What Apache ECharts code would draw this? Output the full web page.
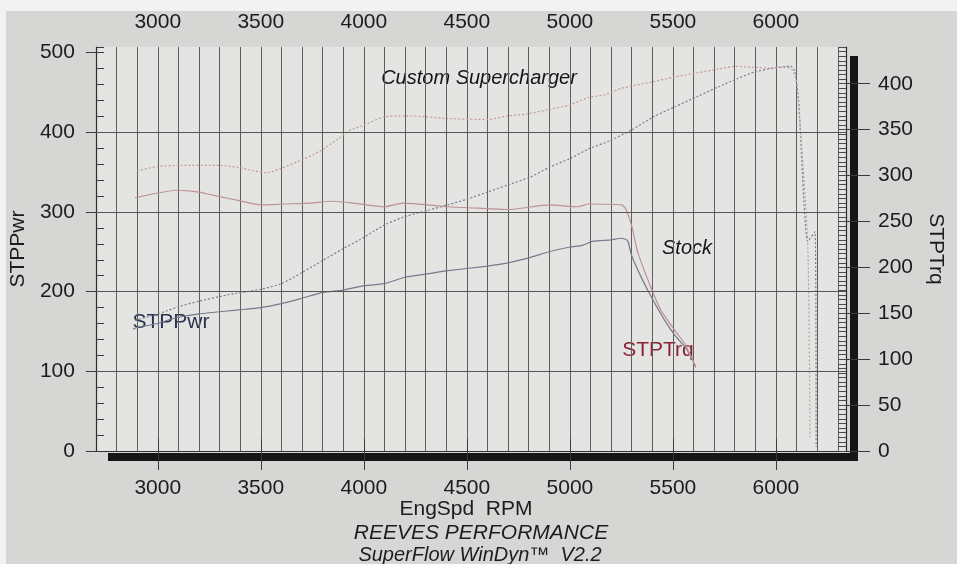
<!DOCTYPE html>
<html><head><meta charset="utf-8">
<script src="https://cdn.jsdelivr.net/npm/echarts@6.0.0/dist/echarts.min.js"></script>
<style>html,body{margin:0;padding:0;background:#d6d6d4}#c{width:957px;height:564px}</style>
</head><body><div id="c"></div>
<script>
// ---- data ----
const rpmTicks = [3000, 3500, 4000, 4500, 5000, 5500, 6000];
const pwrTicks = [0, 100, 200, 300, 400, 500];
const trqTicks = [0, 50, 100, 150, 200, 250, 300, 350, 400];
const pwrGrid = [100, 200, 300, 400];

const stockPwrRpm = [2880, 2900, 3000, 3070, 3200, 3390, 3500, 3600, 3690, 3800, 3900, 3990, 4100, 4200, 4300, 4400, 4600, 4700, 4810, 4900, 5000, 5060, 5110, 5200, 5250, 5280, 5300, 5350, 5400, 5460, 5510, 5560, 5590, 5610];
const stockPwr    = [153, 155, 160, 166, 172, 177, 180, 185, 191, 199, 202, 207, 210, 218, 222, 226, 232, 236, 243, 250, 256, 258, 263, 265, 267, 264, 245, 216, 191, 164, 145, 130, 117, 106];

const scPwrRpm = [2890, 3000, 3100, 3200, 3340, 3500, 3600, 3700, 3800, 3900, 3980, 4050, 4110, 4210, 4310, 4410, 4500, 4600, 4700, 4810, 4900, 5000, 5090, 5190, 5300, 5410, 5510, 5620, 5720, 5810, 5900, 6000, 6070, 6090, 6110, 6154, 6190, 6195];
const scPwr    = [164, 172, 181, 188, 196, 203, 210, 224, 239, 254, 265, 276, 285, 295, 302, 309, 316, 325, 334, 344, 356, 367, 379, 389, 403, 420, 432, 445, 457, 467, 476, 481, 483, 478, 440, 263, 275, 5];

const stockTrqRpm = [2890, 3000, 3090, 3200, 3300, 3390, 3500, 3610, 3740, 3850, 3950, 4100, 4190, 4410, 4600, 4700, 4900, 5040, 5090, 5250, 5270, 5300, 5330, 5390, 5440, 5510, 5560, 5590, 5610];
const stockTrq    = [276, 281, 284, 282, 277, 273, 268, 269, 270, 272, 270, 266, 270, 266, 264, 263, 268, 266, 269, 268, 264, 245, 216, 180, 154, 131, 116, 102, 91];

const scTrqRpm = [2900, 3000, 3100, 3300, 3390, 3470, 3530, 3600, 3710, 3790, 3870, 3930, 3990, 4100, 4200, 4300, 4410, 4600, 4700, 4790, 4900, 5000, 5090, 5170, 5250, 5400, 5500, 5620, 5720, 5800, 5880, 5980, 6050, 6080, 6100, 6154, 6165];
const scTrq    = [305, 310, 311, 311, 309, 305, 303, 308, 318, 327, 339, 349, 354, 364, 365, 364, 362, 361, 365, 367, 372, 377, 385, 388, 395, 402, 407, 412, 416, 419, 418, 417, 418, 415, 403, 228, 15];

const RPM_MIN = 2700, RPM_MAX = 6340, PWR_MAX = 507, TRQ_MAX = 440;

// ---- chart ----
const FONT = '"Liberation Sans", Arial, sans-serif';
const pair = (xs, ys) => xs.map((x, i) => [x, ys[i]]);
const txt = { fontFamily: FONT, fontSize: 21, color: '#1c1c1c' };
const fmtRpm = v => (v % 500 === 0 && v >= 3000 && v <= 6000) ? String(v) : '';
const xBase = { type: 'value', min: RPM_MIN, max: RPM_MAX, interval: 100 };

const chart = echarts.init(document.getElementById('c'), null, { renderer: 'canvas' });
chart.setOption({
  animation: false,
  backgroundColor: '#d6d6d4',
  grid: { left: 93, right: 111, top: 47, bottom: 113, show: true, backgroundColor: '#e4e4e2', borderWidth: 0 },
  xAxis: [
    Object.assign({}, xBase, {
      position: 'bottom',
      axisLine: { show: true, lineStyle: { color: '#2e2e2e', width: 1.2 } },
      axisTick: { show: true, customValues: rpmTicks, length: 19, lineStyle: { color: '#3a3a3a' } },
      axisLabel: Object.assign({ customValues: rpmTicks, margin: 27, formatter: fmtRpm }, txt),
      splitLine: { show: false }
    }),
    Object.assign({}, xBase, {
      position: 'top',
      axisLine: { show: true, lineStyle: { color: '#2e2e2e', width: 1.2 } },
      axisTick: { show: true, customValues: rpmTicks, length: 12, lineStyle: { color: '#3a3a3a' } },
      axisLabel: Object.assign({ customValues: rpmTicks, margin: 14, formatter: fmtRpm }, txt),
      splitLine: { show: false }
    }),
    Object.assign({}, xBase, {
      position: 'bottom',
      axisLine: { show: false }, axisTick: { show: false }, axisLabel: { show: false },
      splitLine: { show: true, lineStyle: { color: '#5e5e5e', width: 1 } }
    })
  ],
  yAxis: [
    {
      type: 'value', position: 'left', min: 0, max: PWR_MAX, interval: 100,
      axisLine: { show: true, lineStyle: { color: '#2e2e2e', width: 1.2 } },
      axisTick: { show: true, customValues: pwrTicks, length: 10, lineStyle: { color: '#3a3a3a' } },
      axisLabel: Object.assign({ customValues: pwrTicks, margin: 21 }, txt),
      splitLine: { show: false },
      name: 'STPPwr', nameLocation: 'middle', nameGap: 60,
      nameTextStyle: Object.assign({}, txt)
    },
    {
      type: 'value', position: 'right', min: 0, max: TRQ_MAX, interval: 50,
      axisLine: { show: true, lineStyle: { color: '#2e2e2e', width: 1.2 } },
      axisTick: { show: true, customValues: trqTicks, length: 24, lineStyle: { color: '#3a3a3a' } },
      axisLabel: Object.assign({ customValues: trqTicks, margin: 32 }, txt),
      splitLine: { show: false },
      name: 'STPTrq', nameLocation: 'middle', nameRotate: -90, nameGap: 79,
      nameTextStyle: Object.assign({}, txt)
    },
    {
      type: 'value', position: 'left', min: 0, max: PWR_MAX, interval: 20,
      axisLine: { show: false }, axisLabel: { show: false }, splitLine: { show: false },
      axisTick: { show: true, inside: true, length: 8, lineStyle: { color: '#3a3a3a' } }
    },
    {
      type: 'value', position: 'right', min: 0, max: TRQ_MAX, interval: 5,
      axisLine: { show: false }, axisLabel: { show: false }, splitLine: { show: false },
      axisTick: { show: true, inside: true, length: 8, lineStyle: { color: '#4a4a4a', width: 1 } }
    }
  ],
  series: [
    {
      name: 'Stock STPPwr', type: 'line', xAxisIndex: 0, yAxisIndex: 0,
      data: pair(stockPwrRpm, stockPwr), showSymbol: false, smooth: 0.2,
      lineStyle: { color: '#747b8d', width: 1.2 },
      markLine: {
        silent: true, symbol: ['none', 'none'], label: { show: false },
        lineStyle: { color: '#565656', width: 1, type: 'solid' },
        data: pwrGrid.map(v => ({ yAxis: v }))
      }
    },
    {
      name: 'Supercharged STPPwr', type: 'line', xAxisIndex: 0, yAxisIndex: 0,
      data: pair(scPwrRpm, scPwr), showSymbol: false, smooth: 0.2,
      lineStyle: { color: '#767d8f', width: 1.2, type: [2, 2] }
    },
    {
      name: 'Stock STPTrq', type: 'line', xAxisIndex: 0, yAxisIndex: 1,
      data: pair(stockTrqRpm, stockTrq), showSymbol: false, smooth: 0.2,
      lineStyle: { color: '#bc9296', width: 1.2 }
    },
    {
      name: 'Supercharged STPTrq', type: 'line', xAxisIndex: 0, yAxisIndex: 1,
      data: pair(scTrqRpm, scTrq), showSymbol: false, smooth: 0.2,
      lineStyle: { color: '#c49a9c', width: 1.2, type: [2, 2] }
    }
  ],
  graphic: [
    { type: 'rect', shape: { x: 0, y: 0, width: 957, height: 11 }, style: { fill: '#f2f2f2' }, silent: true },
    { type: 'rect', shape: { x: 0, y: 0, width: 6, height: 564 }, style: { fill: '#f2f2f2' }, silent: true },
    { type: 'rect', shape: { x: 108, y: 453, width: 750, height: 8 }, style: { fill: '#151515' }, silent: true },
    { type: 'rect', shape: { x: 850, y: 56, width: 8, height: 405 }, style: { fill: '#151515' }, silent: true },
    { type: 'text', x: 479, y: 78, silent: true, style: { text: 'Custom Supercharger', fill: '#151515', font: 'italic 20px ' + FONT, align: 'center', verticalAlign: 'middle', textAlign: 'center', textVerticalAlign: 'middle' } },
    { type: 'text', x: 687, y: 248, silent: true, style: { text: 'Stock', fill: '#151515', font: 'italic 20px ' + FONT, align: 'center', verticalAlign: 'middle', textAlign: 'center', textVerticalAlign: 'middle' } },
    { type: 'text', x: 171, y: 322, silent: true, style: { text: 'STPPwr', fill: '#27334f', font: '21px ' + FONT, align: 'center', verticalAlign: 'middle', textAlign: 'center', textVerticalAlign: 'middle' } },
    { type: 'text', x: 658, y: 350, silent: true, style: { text: 'STPTrq', fill: '#8c2236', font: '21px ' + FONT, align: 'center', verticalAlign: 'middle', textAlign: 'center', textVerticalAlign: 'middle' } },
    { type: 'text', x: 466, y: 509, silent: true, style: { text: 'EngSpd  RPM', fill: '#1c1c1c', font: '21px ' + FONT, align: 'center', verticalAlign: 'middle', textAlign: 'center', textVerticalAlign: 'middle' } },
    { type: 'text', x: 481, y: 533, silent: true, style: { text: 'REEVES PERFORMANCE', fill: '#1c1c1c', font: 'italic 21px ' + FONT, align: 'center', verticalAlign: 'middle', textAlign: 'center', textVerticalAlign: 'middle' } },
    { type: 'text', x: 480, y: 555, silent: true, style: { text: 'SuperFlow WinDyn\u2122  V2.2', fill: '#1c1c1c', font: 'italic 20px ' + FONT, align: 'center', verticalAlign: 'middle', textAlign: 'center', textVerticalAlign: 'middle' } }
  ]
});
</script></body></html>
